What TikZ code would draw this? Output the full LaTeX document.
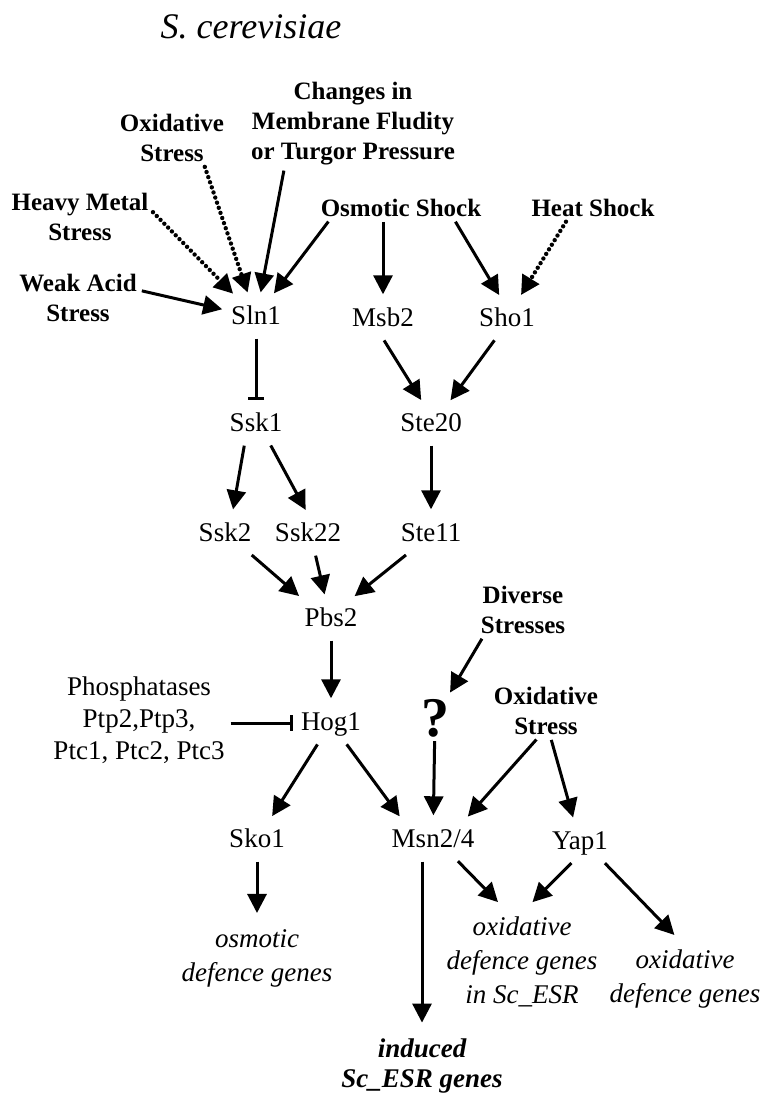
\documentclass[tikz,border=0pt]{standalone}
\usepackage{fontspec}
\setmainfont{Liberation Serif}
\usetikzlibrary{arrows.meta}

\begin{document}
\begin{tikzpicture}[x=1pt, y=-1pt,
	every node/.style={ inner sep=0pt, align=center, text=black },
	prot/.style={ font=\fontsize{27}{32}\selectfont, text height=19pt, text depth=4pt, inner xsep=4pt, inner ysep=8pt },
	stress/.style={ font=\fontsize{25}{30}\selectfont\bfseries, inner sep=3pt },
	genes/.style={ font=\fontsize{27}{34}\selectfont\itshape, inner xsep=3pt, inner ysep=11pt },
	act/.style={ -{Triangle[length=19pt,width=19pt]}, line width=3pt, shorten >=5pt, shorten <=2pt },
	dotact/.style={ act, line width=4.4pt, line cap=round, dash pattern=on 0pt off 5.4pt },
	inh/.style={ -{Bar[width=16pt]}, line width=3pt, shorten >=4pt, shorten <=2pt } ]
			\useasboundingbox (0,0) rectangle (762,1095);
			\node[font=\fontsize{36}{40}\selectfont\itshape] (title) at (251,27) {S. cerevisiae};

			% stresses on top
			\node[stress] (chg) at (353,124) {Changes in\\Membrane Fludity\\or Turgor Pressure};
			\node[stress] (oxl) at (172,138) {Oxidative\\Stress};
			\node[stress] (hm) at (80,217) {Heavy Metal\\Stress};
			\node[stress] (osm) at (401,208) {Osmotic Shock};
			\node[stress] (heat) at (593,208) {Heat Shock};
			\node[stress] (wa) at (78,298) {Weak Acid\\Stress};

			\node[prot] (sln1) at (256,317) {Sln1};
			\node[prot] (msb2) at (383,319) {Msb2};
			\node[prot] (sho1) at (507,319) {Sho1};
			\node[prot] (ssk1) at (256,424) {Ssk1};
			\node[prot] (ste20) at (431,424) {Ste20};
			\node[prot] (ssk2) at (225,534) {Ssk2};
			\node[prot] (ssk22) at (308,534) {Ssk22};
			\node[prot] (ste11) at (431,534) {Ste11};
			\node[prot] (pbs2) at (331,619) {Pbs2};
			\node[stress] (div) at (523,610) {Diverse\\Stresses};
			\node[prot] (hog1) at (331,723) {Hog1};
			\node[font=\fontsize{56}{56}\selectfont\bfseries, inner sep=2pt] (q) at (435,718) {?};
			\node[font=\fontsize{27}{32}\selectfont, inner sep=4pt] (phos) at (139,720) {Phosphatases\\Ptp2,Ptp3,\\Ptc1, Ptc2, Ptc3};
			\node[stress] (oxr) at (546,711) {Oxidative\\Stress};

			\node[prot] (sko1) at (257,840) {Sko1};
			\node[prot] (msn) at (433,840) {Msn2/4};
			\node[prot] (yap1) at (580,842) {Yap1};
			\node[genes] (osmg) at (257,958) {osmotic\\defence genes};
			\node[genes] (oxg1) at (522,962) {oxidative\\defence genes\\in Sc\_ESR};
			\node[genes] (oxg2) at (685,979) {oxidative\\defence genes};
			\node[genes, font=\fontsize{27}{30}\selectfont\bfseries\itshape] (ind) at (422,1066) {induced\\Sc\_ESR genes};

			\draw[dotact] (oxl.-40) -- (sln1);
			\draw[act] (chg.-147) -- (sln1);
			\draw[dotact] (hm.5) -- (sln1);
			\draw[act] ([xshift=12pt]osm.south west) -- (sln1);
			\draw[act] (wa.7) -- (sln1);
			\draw[act] (osm.south -| msb2) -- (msb2);
			\draw[act] ([xshift=-30pt]osm.south east) -- (sho1.105);
			\draw[dotact] ([xshift=-26pt]heat.south) -- (sho1.60);
			\draw[inh] (sln1) -- (ssk1);
			\draw[act] (msb2.south) -- (ste20.110);
			\draw[act] (sho1.-120) -- (ste20.50);
			\draw[act] (ssk1.-120) -- (ssk2.70);
			\draw[act] (ssk1.-55) -- (ssk22.north);
			\draw[act] (ste20) -- (ste11);
			\draw[act] (ssk2.-38) -- (pbs2.145);
			\draw[act] (ssk22.-70) -- (pbs2.105);
			\draw[act] (ste11.-140) -- (pbs2.45);
			\draw[act] (pbs2) -- (hog1);
			\draw[act] (div.-146) -- (q);
			\draw[inh] (phos.east |- hog1) -- (hog1);% phosphatases block Hog1
			\draw[act] (hog1) -- (sko1);
			\draw[act] (hog1) -- (msn.147);
			\draw[act] (q) -- (msn);
			\draw[act] (oxr.-107) -- (msn.32);
			\draw[act] (oxr.-80) -- (yap1);
			\draw[act] (sko1) -- (osmg);
			\draw[act] (msn.south -| ind) -- (ind);
			\draw[act] (msn.-40) -- (oxg1.110);
			\draw[act] (yap1.-110) -- (oxg1.83);
			\draw[act] (yap1.-40) -- (oxg2.100);
		\end{tikzpicture}
\end{document}
